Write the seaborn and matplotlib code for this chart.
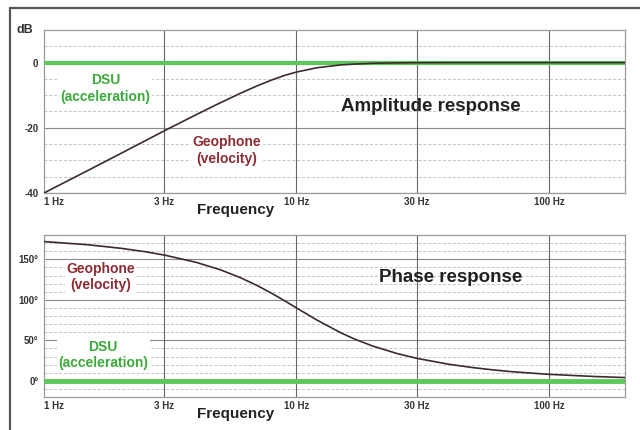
import matplotlib
matplotlib.use("Agg")
import matplotlib.pyplot as plt
from matplotlib.lines import Line2D
import seaborn as sns
import pandas as pd

# ---- data ----
freq_hz = [1, 1.5, 2, 2.5, 3, 4, 5, 6, 7, 8, 9, 10, 12, 15, 17, 20, 25, 30, 40, 50,
           60, 70, 80, 100, 150, 200]
geophone_db = [-40.0, -33.0, -28.0, -24.1, -20.9, -16.0, -12.3, -9.4, -7.1, -5.3, -3.9,
               -2.9, -1.6, -0.7, -0.45, -0.2, -0.08, -0.03, 0.0, 0.0,
               0.0, 0.0, 0.0, 0.0, 0.0, 0.0]
geophone_phase = [171.9, 167.9, 163.7, 159.5, 155.2, 146.3, 137.0, 127.3, 117.5, 107.8, 98.6,
                  90.0, 75.3, 59.2, 51.5, 43.0, 33.7, 27.7, 20.5, 16.3,
                  13.5, 11.5, 10.1, 8.0, 5.4, 4.0]
dsu_db = [0.0] * len(freq_hz)
dsu_phase = [0.0] * len(freq_hz)

x_ticks = [1, 3, 10, 30, 100]
x_labels = ["1 Hz", "3 Hz", "10 Hz", "30 Hz", "100 Hz"]
amp_ticks = [0, -20, -40]
amp_labels = ["0", "-20", "-40"]
phase_ticks = [0, 50, 100, 150]
phase_labels = ["0°", "50°", "100°", "150°"]

amp_df = pd.DataFrame({"f": freq_hz, "geo": geophone_db, "dsu": dsu_db})
ph_df = pd.DataFrame({"f": freq_hz, "geo": geophone_phase, "dsu": dsu_phase})

sns.set_style("white")
plt.rcParams["font.family"] = ["Liberation Sans", "DejaVu Sans"]

GREEN = "#5cc85c"
GREEN_TXT = "#3aaa3a"
RED_TXT = "#8e2b33"
CURVE = "#3b2b2b"
GRID = "#8a8a8a"
MINOR = "#c4c4c4"
TICKC = "#333333"

fig = plt.figure(figsize=(6.4, 4.3), dpi=100)
ax1 = fig.add_axes([0.06875, 0.5512, 0.9078, 0.3790])
ax2 = fig.add_axes([0.06875, 0.0767, 0.9078, 0.3768])


def style_axis(ax, ylim, major, minor_step, yticks, ylabels):
    ax.set_xscale("log")
    ax.set_xlim(1, 200)
    ax.set_ylim(*ylim)
    for sp in ax.spines.values():
        sp.set_color("#9a9a9a")
        sp.set_linewidth(0.9)
    v = int(ylim[0])
    while v <= ylim[1]:
        if v % major == 0:
            ax.axhline(v, color=GRID, lw=0.8, zorder=0)
        else:
            ax.axhline(v, color=MINOR, lw=0.7, ls=(0, (3, 2)), zorder=0)
        v += minor_step
    for xv in x_ticks[1:]:
        ax.axvline(xv, color="#666666", lw=0.8, zorder=0)
    ax.minorticks_off()
    ax.set_xticks(x_ticks)
    ax.set_xticklabels(x_labels)
    ax.set_yticks(yticks)
    ax.set_yticklabels(ylabels)
    ax.tick_params(axis="x", length=0, pad=3, labelsize=7, labelcolor=TICKC)
    ax.tick_params(axis="y", length=3, width=0.7, color="#888888", pad=1,
                   labelsize=7, labelcolor=TICKC)
    for lab in ax.get_xticklabels() + ax.get_yticklabels():
        lab.set_fontweight("bold")
    ax.get_xticklabels()[0].set_horizontalalignment("left")
    ax.set_xlabel("")
    ax.set_ylabel("")
    ax.text(0.33, -0.105, "Frequency", transform=ax.transAxes, ha="center", va="center",
            fontsize=11, fontweight="bold", color="#222222")


# ---- amplitude ----
sns.lineplot(data=amp_df, x="f", y="dsu", ax=ax1, color=GREEN, lw=3.0, zorder=3)
sns.lineplot(data=amp_df, x="f", y="geo", ax=ax1, color=CURVE, lw=1.2, zorder=4)
style_axis(ax1, (-40, 10), 20, 5, amp_ticks, amp_labels)
ax1.text(-0.018, 1.0, "dB", transform=ax1.transAxes, ha="right", va="center",
         fontsize=9, fontweight="bold", color="#333333")
ax1.text(0.106, 0.64, "DSU\n(acceleration)", transform=ax1.transAxes, ha="center",
         va="center", fontsize=10, fontweight="bold", color=GREEN_TXT, linespacing=1.25,
         bbox=dict(facecolor="white", edgecolor="none", pad=1), zorder=5)
ax1.text(0.315, 0.26, "Geophone\n(velocity)", transform=ax1.transAxes, ha="center",
         va="center", fontsize=10, fontweight="bold", color=RED_TXT, linespacing=1.25,
         bbox=dict(facecolor="white", edgecolor="none", pad=1), zorder=5)
ax1.text(0.665, 0.53, "Amplitude response", transform=ax1.transAxes, ha="center",
         va="center", fontsize=13.5, fontweight="bold", color="#222222", zorder=5)

# ---- phase ----
sns.lineplot(data=ph_df, x="f", y="dsu", ax=ax2, color=GREEN, lw=3.5, zorder=3)
sns.lineplot(data=ph_df, x="f", y="geo", ax=ax2, color=CURVE, lw=1.2, zorder=4)
style_axis(ax2, (-20, 180), 50, 10, phase_ticks, phase_labels)
ax2.text(0.097, 0.74, "Geophone\n(velocity)", transform=ax2.transAxes, ha="center",
         va="center", fontsize=10, fontweight="bold", color=RED_TXT, linespacing=1.25,
         bbox=dict(facecolor="white", edgecolor="none", pad=1), zorder=5)
ax2.text(0.102, 0.26, "DSU\n(acceleration)", transform=ax2.transAxes, ha="center",
         va="center", fontsize=10, fontweight="bold", color=GREEN_TXT, linespacing=1.25,
         bbox=dict(facecolor="white", edgecolor="none", pad=1), zorder=5)
ax2.text(0.70, 0.74, "Phase response", transform=ax2.transAxes, ha="center",
         va="center", fontsize=13.5, fontweight="bold", color="#222222", zorder=5)

# frame on top and left of the picture
fig.add_artist(Line2D([0.016, 1.0], [0.982, 0.982], transform=fig.transFigure,
                      color="#555555", lw=1.6))
fig.add_artist(Line2D([0.016, 0.016], [0.0, 0.982], transform=fig.transFigure,
                      color="#555555", lw=1.6))

fig.savefig("out.png", dpi=100, facecolor="white")
